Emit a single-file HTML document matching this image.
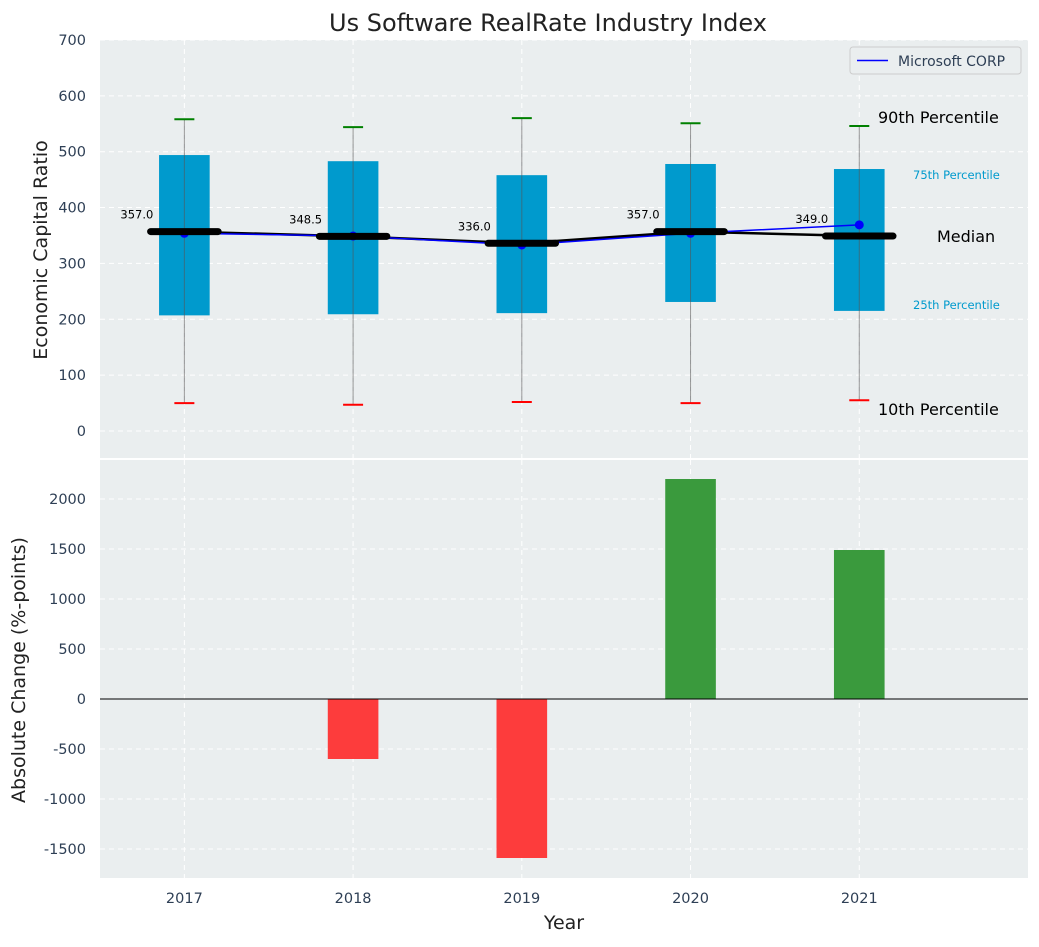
<!DOCTYPE html>
<html><head><meta charset="utf-8"><style>
body{margin:0;background:#fff;font-family:"Liberation Sans","DejaVu Sans",sans-serif}
svg text{font-family:"DejaVu Sans","Liberation Sans",sans-serif}
</style></head><body>
<svg id="c" width="1039" height="942" xmlns="http://www.w3.org/2000/svg"></svg>
<script>
const years=[2017,2018,2019,2020,2021];
const p10=[50,47,52,50,55];
const q1=[207,209,211,231,215];
const med=[357,348.5,336,357,349];
const q3=[494,483,458,478,469];
const p90=[558,544,560,551,546];
const msft=[354,349,333,354,369];
const change=[0,-600,-1590,2200,1490];
const topTicks=[0,100,200,300,400,500,600,700];
const botTicks=[-1500,-1000,-500,0,500,1000,1500,2000];

const svg=document.getElementById('c');
const NS='http://www.w3.org/2000/svg';
function el(t,a,p){const e=document.createElementNS(NS,t);for(const k in a)e.setAttribute(k,a[k]);(p||svg).appendChild(e);return e;}
const X0=100,X1=1028;
const x=v=>X0+(v-2016.5)/(2022-2016.5)*(X1-X0);
const yT=v=>431-v*0.5586;
const yB=v=>699-v*0.1;
const pxPerYear=(X1-X0)/5.5;

let bg1=el('rect',{x:X0,y:40,width:X1-X0,height:418,fill:'#eaeeef'});

let bg2=el('rect',{x:X0,y:460,width:X1-X0,height:418,fill:'#eaeeef'});


years.forEach(yr=>{
  el('line',{x1:x(yr),x2:x(yr),y1:40,y2:458,stroke:'#fff','stroke-dasharray':'5,4','stroke-width':1});
  el('line',{x1:x(yr),x2:x(yr),y1:460,y2:878,stroke:'#fff','stroke-dasharray':'5,4','stroke-width':1});
  let t=el('text',{x:x(yr),y:903,'text-anchor':'middle','font-size':14.5,fill:'#2e3f55'});t.textContent=yr;
  
});
topTicks.forEach(v=>{
  el('line',{x1:X0,x2:X1,y1:yT(v),y2:yT(v),stroke:'#fff','stroke-dasharray':'5,4'});
  let t=el('text',{x:86,y:yT(v)+5,'text-anchor':'end','font-size':14.5,fill:'#2e3f55'});t.textContent=v;
  
});
botTicks.forEach(v=>{
  el('line',{x1:X0,x2:X1,y1:yB(v),y2:yB(v),stroke:'#fff','stroke-dasharray':'5,4'});
  let t=el('text',{x:86,y:yB(v)+5,'text-anchor':'end','font-size':14.5,fill:'#2e3f55'});t.textContent=v;
  
});

const bw=0.3*pxPerYear;
years.forEach((yr,i)=>{
  const cx=x(yr);
  let b=el('rect',{x:cx-bw/2,y:yT(q3[i]),width:bw,height:yT(q1[i])-yT(q3[i]),fill:'#009ACD'});
  
  let w=el('line',{x1:cx,x2:cx,y1:yT(p90[i]),y2:yT(p10[i]),stroke:'#555','stroke-opacity':0.6,'stroke-width':1});
  
  let c1=el('line',{x1:cx-10,x2:cx+10,y1:yT(p90[i]),y2:yT(p90[i]),stroke:'green','stroke-width':2});
  
  let c2=el('line',{x1:cx-10,x2:cx+10,y1:yT(p10[i]),y2:yT(p10[i]),stroke:'red','stroke-width':2});
  
});
let mp=el('polyline',{points:years.map((yr,i)=>x(yr)+','+yT(med[i])).join(' '),fill:'none',stroke:'#000','stroke-width':2.5});

let ml=el('polyline',{points:years.map((yr,i)=>x(yr)+','+yT(msft[i])).join(' '),fill:'none',stroke:'blue','stroke-width':1.5});

years.forEach((yr,i)=>{
  let d=el('circle',{cx:x(yr),cy:yT(msft[i]),r:4.5,fill:'blue'});
  
});
years.forEach((yr,i)=>{
  const cx=x(yr);
  let m=el('line',{x1:cx-0.2*pxPerYear,x2:cx+0.2*pxPerYear,y1:yT(med[i]),y2:yT(med[i]),stroke:'#000','stroke-width':7,'stroke-linecap':'round'});
  
  let t=el('text',{x:cx-31,y:yT(med[i])-13,'text-anchor':'end','font-size':11.5,fill:'#000'});t.textContent=med[i].toFixed(1);
  
});
[['90th Percentile',878,123,16,'#000'],['75th Percentile',913,179,11.5,'#009ACD'],['Median',937,242,16,'#000'],['25th Percentile',913,309,11.5,'#009ACD'],['10th Percentile',878,415,16,'#000']].forEach(a=>{
  let t=el('text',{x:a[1],y:a[2],'font-size':a[3],fill:a[4]});t.textContent=a[0];
  
});
let lg=el('g',{});
el('rect',{x:850,y:47,width:171,height:27,rx:3,fill:'#eaeeef',stroke:'#ccc'},lg);
el('line',{x1:857,x2:888,y1:60.5,y2:60.5,stroke:'blue','stroke-width':1.5},lg);
let lt=el('text',{x:898,y:66,'font-size':14,fill:'#2e3f55'},lg);lt.textContent='Microsoft CORP';

years.forEach((yr,i)=>{
  const v=change[i];
  const y0=yB(Math.max(v,0)),h=Math.abs(yB(v)-yB(0));
  let r=el('rect',{x:x(yr)-bw/2,y:y0,width:bw,height:h,fill:v>=0?'#3a9a3d':'#fd3c3c'});
  
});
let zl=el('line',{x1:X0,x2:X1,y1:yB(0),y2:yB(0),stroke:'#000','stroke-width':1});


let tt=el('text',{x:548,y:31,'text-anchor':'middle','font-size':24,fill:'#222'});tt.textContent='Us Software RealRate Industry Index';

let ya=el('text',{x:0,y:0,'text-anchor':'middle','font-size':19,fill:'#222',transform:'translate(47,250) rotate(-90)'});ya.textContent='Economic Capital Ratio';

let yb=el('text',{x:0,y:0,'text-anchor':'middle','font-size':19,fill:'#222',transform:'translate(25,670) rotate(-90)'});yb.textContent='Absolute Change (%-points)';

let xa=el('text',{x:564,y:929,'text-anchor':'middle','font-size':19,fill:'#222'});xa.textContent='Year';

</script>
</body></html>
